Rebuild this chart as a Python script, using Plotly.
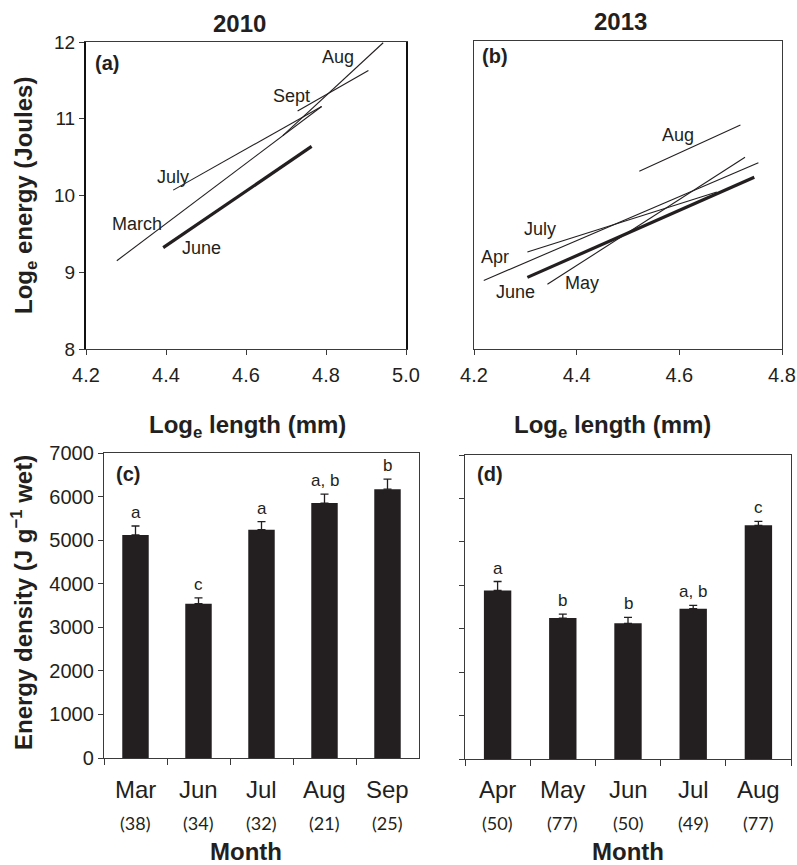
import plotly.graph_objects as go

W, H = 797, 865

# ---------------- Data ----------------
# Panel (a) 2010 regression lines: log length (x) vs log energy (y)
a_months = ["March", "June", "July", "Aug", "Sept"]
a_x0 = [4.277, 4.393, 4.418, 4.692, 4.729]
a_x1 = [4.789, 4.764, 4.789, 4.943, 4.906]
a_y0 = [9.15, 9.32, 10.07, 10.78, 11.10]
a_y1 = [11.16, 10.64, 11.16, 11.99, 11.63]

# Panel (b) 2013 regression lines
b_months = ["Apr", "May", "June", "July", "Aug"]
b_x0 = [4.219, 4.343, 4.304, 4.304, 4.522]
b_x1 = [4.754, 4.728, 4.746, 4.673, 4.719]
b_y0 = [8.89, 8.84, 8.93, 9.26, 10.31]
b_y1 = [10.42, 10.49, 10.23, 10.04, 10.91]

# Panel (c) 2010 energy density
c_months = ["Mar", "Jun", "Jul", "Aug", "Sep"]
c_n = ["(38)", "(34)", "(32)", "(21)", "(25)"]
c_vals = [5120, 3540, 5240, 5850, 6170]
c_err = [205, 137, 186, 205, 230]
c_letters = ["a", "c", "a", "a, b", "b"]

# Panel (d) 2013 energy density
d_months = ["Apr", "May", "Jun", "Jul", "Aug"]
d_n = ["(50)", "(77)", "(50)", "(49)", "(77)"]
d_vals = [3880, 3245, 3125, 3460, 5380]
d_err = [207, 92, 138, 77, 92]
d_letters = ["a", "b", "b", "a, b", "c"]

x_ticks_a = [4.2, 4.4, 4.6, 4.8, 5.0]
x_ticks_b = [4.2, 4.4, 4.6, 4.8]
y_ticks_ab = [8, 9, 10, 11, 12]
y_ticks_cd = [0, 1000, 2000, 3000, 4000, 5000, 6000, 7000]

# label positions (data coords) for line labels
a_label_pos = {"March": (4.327, 9.63), "June": (4.488, 9.32), "July": (4.417, 10.24),
               "Aug": (4.831, 11.81), "Sept": (4.714, 11.29)}
b_label_pos = {"Apr": (4.240, 9.20), "May": (4.410, 8.86), "June": (4.280, 8.74),
               "July": (4.329, 9.56), "Aug": (4.597, 10.78)}

INK = "#231f20"
FONT = "Liberation Sans"


def px_x(p):
    return p / W


def px_y(p):
    return 1 - p / H


C = dict(xanchor="center", yanchor="middle", showarrow=False)

fig = go.Figure()

# Panel (a) lines
for m, x0, x1, y0, y1 in zip(a_months, a_x0, a_x1, a_y0, a_y1):
    fig.add_trace(go.Scatter(x=[x0, x1], y=[y0, y1], mode="lines",
                             line=dict(color=INK, width=3.2 if m == "June" else 1.1),
                             xaxis="x", yaxis="y", showlegend=False, hoverinfo="skip"))
# Panel (b) lines
for m, x0, x1, y0, y1 in zip(b_months, b_x0, b_x1, b_y0, b_y1):
    fig.add_trace(go.Scatter(x=[x0, x1], y=[y0, y1], mode="lines",
                             line=dict(color=INK, width=3.2 if m == "June" else 1.1),
                             xaxis="x2", yaxis="y2", showlegend=False, hoverinfo="skip"))

# Panel (c) bars
fig.add_trace(go.Bar(x=c_months, y=c_vals, marker=dict(color=INK, line=dict(width=0)),
                     error_y=dict(type="data", symmetric=False, array=c_err,
                                  arrayminus=[0] * len(c_err), color=INK, thickness=1.3, width=4),
                     xaxis="x3", yaxis="y3", showlegend=False))
# Panel (d) bars
fig.add_trace(go.Bar(x=d_months, y=d_vals, marker=dict(color=INK, line=dict(width=0)),
                     error_y=dict(type="data", symmetric=False, array=d_err,
                                  arrayminus=[0] * len(d_err), color=INK, thickness=1.3, width=4),
                     xaxis="x4", yaxis="y4", showlegend=False))

ann = []
# line labels
for m, (x, y) in a_label_pos.items():
    ann.append(dict(C, x=x, y=y, xref="x", yref="y", text=m,
                    font=dict(family=FONT, size=18, color=INK)))
for m, (x, y) in b_label_pos.items():
    ann.append(dict(C, x=x, y=y, xref="x2", yref="y2", text=m,
                    font=dict(family=FONT, size=18, color=INK)))

# significance letters
for m, v, e, l in zip(c_months, c_vals, c_err, c_letters):
    ann.append(dict(x=m, y=v + e, xref="x3", yref="y3", text=l, showarrow=False,
                    xanchor="center", yanchor="bottom", yshift=2,
                    font=dict(family=FONT, size=17, color=INK)))
for m, v, e, l in zip(d_months, d_vals, d_err, d_letters):
    ann.append(dict(x=m, y=v + e, xref="x4", yref="y4", text=l, showarrow=False,
                    xanchor="center", yanchor="bottom", yshift=2,
                    font=dict(family=FONT, size=17, color=INK)))

# month labels and counts
for m, n in zip(c_months, c_n):
    ann.append(dict(C, x=m, y=px_y(789), xref="x3", yref="paper", text=m,
                    font=dict(family=FONT, size=24, color=INK)))
    ann.append(dict(C, x=m, y=px_y(823), xref="x3", yref="paper", text=n,
                    font=dict(family="Lato", size=18, color=INK)))
for m, n in zip(d_months, d_n):
    ann.append(dict(C, x=m, y=px_y(789), xref="x4", yref="paper", text=m,
                    font=dict(family=FONT, size=24, color=INK)))
    ann.append(dict(C, x=m, y=px_y(823), xref="x4", yref="paper", text=n,
                    font=dict(family="Lato", size=18, color=INK)))

# titles
bold = dict(family=FONT, size=24, color=INK)
ann += [
    dict(C, x=px_x(240), y=px_y(23), xref="paper", yref="paper", text="<b>2010</b>", font=bold),
    dict(C, x=px_x(620), y=px_y(22), xref="paper", yref="paper", text="<b>2013</b>", font=bold),
    dict(C, x=px_x(247), y=px_y(427), xref="paper", yref="paper",
         text="<b>Log<sub>e</sub> length (mm)</b>", font=bold),
    dict(C, x=px_x(612), y=px_y(427), xref="paper", yref="paper",
         text="<b>Log<sub>e</sub> length (mm)</b>", font=bold),
    dict(C, x=px_x(25), y=px_y(196), xref="paper", yref="paper", textangle=-90,
         text="<b>Log<sub>e</sub> energy (Joules)</b>", font=bold),
    dict(C, x=px_x(22), y=px_y(603), xref="paper", yref="paper", textangle=-90,
         text="<b>Energy density (J g<sup>\u22121</sup> wet)</b>", font=bold),
    dict(C, x=px_x(246), y=px_y(851), xref="paper", yref="paper", text="<b>Month</b>", font=bold),
    dict(C, x=px_x(628), y=px_y(851), xref="paper", yref="paper", text="<b>Month</b>", font=bold),
]
pl = dict(family=FONT, size=20, color=INK)
ann += [
    dict(C, x=px_x(107), y=px_y(63), xref="paper", yref="paper", text="<b>(a)</b>", font=pl),
    dict(C, x=px_x(495), y=px_y(56), xref="paper", yref="paper", text="<b>(b)</b>", font=pl),
    dict(C, x=px_x(128), y=px_y(474), xref="paper", yref="paper", text="<b>(c)</b>", font=pl),
    dict(C, x=px_x(490), y=px_y(474), xref="paper", yref="paper", text="<b>(d)</b>", font=pl),
]

axcommon = dict(showgrid=False, zeroline=False, showline=True, linecolor="#3a3a3a", linewidth=1.3,
                mirror=True, ticks="outside", tickcolor="#3a3a3a", ticklen=5, tickwidth=1,
                automargin=False,
                tickfont=dict(family=FONT, size=20, color=INK))

fig.update_layout(
    width=W, height=H, margin=dict(l=0, r=0, t=0, b=0, pad=0, autoexpand=False),
    paper_bgcolor="white", plot_bgcolor="white",
    bargap=0.58,
    annotations=ann,
    xaxis=dict(axcommon, domain=[px_x(86), px_x(406)], range=[4.2, 5.0], tickvals=x_ticks_a,
               tickformat=".1f", anchor="y", ticklabelstandoff=3),
    yaxis=dict(axcommon, domain=[px_y(349), px_y(42)], range=[8, 12], tickvals=y_ticks_ab,
               anchor="x", linecolor="#111", linewidth=2, tickfont=dict(family=FONT, size=19, color=INK)),
    xaxis2=dict(axcommon, domain=[px_x(474), px_x(782)], range=[4.2, 4.8], tickvals=x_ticks_b,
                tickformat=".1f", anchor="y2", ticklabelstandoff=3),
    yaxis2=dict(axcommon, domain=[px_y(349), px_y(41)], range=[8, 12], tickvals=y_ticks_ab,
                anchor="x2", showticklabels=False, ticks=""),
    xaxis3=dict(axcommon, domain=[px_x(104), px_x(419)], type="category", tickson="boundaries",
                showticklabels=False, anchor="y3", ticklen=6),
    yaxis3=dict(axcommon, domain=[px_y(758), px_y(453)], range=[0, 7000], tickvals=y_ticks_cd,
                anchor="x3"),
    xaxis4=dict(axcommon, domain=[px_x(465), px_x(791)], type="category", tickson="boundaries",
                showticklabels=False, anchor="y4", ticklen=6),
    yaxis4=dict(axcommon, domain=[px_y(759), px_y(455)], range=[0, 7000], tickvals=y_ticks_cd,
                anchor="x4", showticklabels=False),
)

fig.write_html("out.html", config={"displayModeBar": False},
               post_script="document.body.style.margin='0';document.body.style.overflow='hidden';")
